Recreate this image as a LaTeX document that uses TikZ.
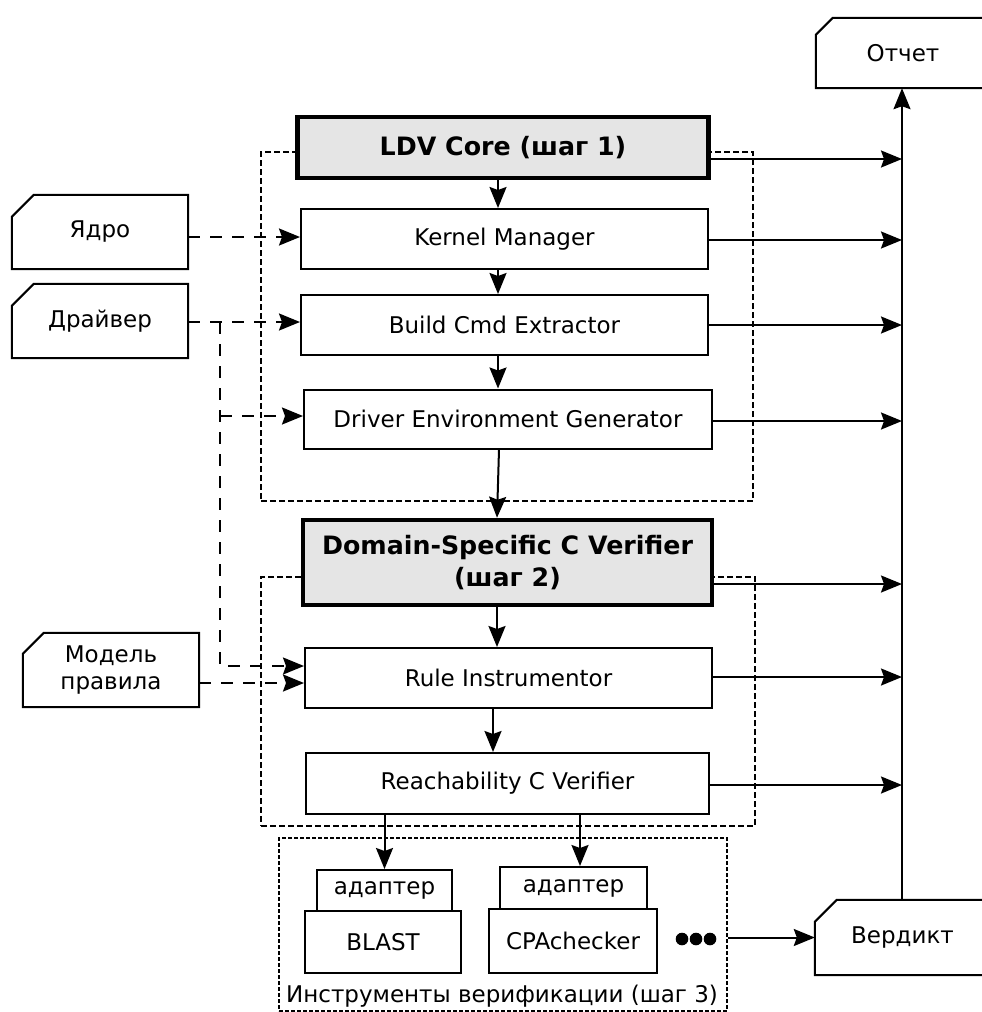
\documentclass[tikz,border=0pt]{standalone}
\usepackage{fontspec}
\setmainfont{DejaVu Sans}
\usetikzlibrary{arrows.meta,calc}
\begin{document}
\begin{tikzpicture}[x=1pt,y=-1pt,
  font=\fontsize{23}{27.5}\selectfont,
  box/.style={draw, line width=2pt, fill=white, inner sep=0pt},
  head/.style={box, line width=4.5pt, fill=gray!20, font=\fontsize{25.3}{31.5}\selectfont\bfseries, align=center},
  doc/.style={inner sep=0pt, align=center},
  docline/.style={line width=2pt},
  cont/.style={draw, line width=1.8pt, dash pattern=on 6pt off 3pt, inner sep=0pt},
  toolcont/.style={draw, line width=1.5pt, dash pattern=on 4pt off 2pt, inner sep=0pt},
  arr/.style={line width=2pt, -{Stealth[length=21pt 0, width=17pt 0, inset=3pt 0]}},
  darr/.style={arr, dash pattern=on 12pt off 10pt},
  dline/.style={line width=2pt, dash pattern=on 12pt off 10pt}]
\useasboundingbox (0,0) rectangle (982,1012);
\clip (0,0) rectangle (982,1012);

% containers
\node[cont, minimum width=492, minimum height=349] (c1) at (507,326.5) {};
\node[cont, minimum width=494, minimum height=249] (c2) at (508,701.5) {};
\node[toolcont, minimum width=448, minimum height=173] (tools) at (503,924.5) {};
\node (toolslabel) at (502,996) {Инструменты верификации (шаг 3)};

% main boxes
\node[head, minimum width=411, minimum height=61] (ldv) at (503,147.5) {LDV Core (шаг 1)};
\node[box, minimum width=407, minimum height=60] (km) at (504.5,239) {Kernel Manager};
\node[box, minimum width=407, minimum height=60] (bce) at (504.5,325) {Build Cmd Extractor};
\node[box, minimum width=408, minimum height=59] (deg) at (508,419) {Driver Environment Generator};
\node[head, minimum width=409, minimum height=85] (dscv) at (507.5,562.5) {Domain-Specific C Verifier\\(шаг 2)};
\node[box, minimum width=407, minimum height=60] (ri) at (508.5,678) {Rule Instrumentor};
\node[box, minimum width=403, minimum height=61] (rcv) at (507.5,783.5) {Reachability C Verifier};

% tools
\node[box, minimum width=135, minimum height=41] (ad1) at (384.5,890.5) {адаптер};
\node[box, minimum width=147, minimum height=42] (ad2) at (573.5,888) {адаптер};
\node[box, minimum width=156, minimum height=62] (blast) at (383,942) {BLAST};
\node[box, minimum width=168, minimum height=64] (cpa) at (573,941) {CPAchecker};
\foreach \x in {682,696,710} \fill (\x,939) circle (6.3);

% documents
\node[doc, minimum width=176, minimum height=74] (yadro) at (100,232) {Ядро};
\node[doc, minimum width=176, minimum height=74] (drv) at (100,321) {Драйвер};
\node[doc, minimum width=176, minimum height=74] (model) at (111,670) {Модель\\правила};
\node[doc, minimum width=174, minimum height=70] (otchet) at (903,53) {Отчет};
\node[doc, minimum width=175, minimum height=75] (verdict) at (902.5,937.5) {Вердикт};
\foreach \n/\c in {yadro/22, drv/22, model/21, otchet/17, verdict/22}
  \draw[docline] (\n.south west) -- ([yshift=-\c pt]\n.north west) -- ([xshift=\c pt]\n.north west) -- (\n.north east) -- (\n.south east) -- cycle;

% vertical flow
\coordinate (colx) at (498,0);
\draw[arr] (ldv.south -| colx) -- (km.north -| colx);
\draw[arr] (km.south -| colx) -- (bce.north -| colx);
\draw[arr] (bce.south -| colx) -- (deg.north -| colx);
\draw[arr] ([xshift=-9pt]deg.south) -- ([xshift=-10.5pt]dscv.north);
\draw[arr] ([xshift=-10.5pt]dscv.south) -- ([xshift=-11.5pt]ri.north);
\draw[arr] ([xshift=-15.5pt]ri.south) -- ([xshift=-14.5pt]rcv.north);
\draw[arr] (rcv.south -| ad1.north) -- (ad1.north);
\draw[arr] ([xshift=6.5pt]rcv.south -| ad2.north) -- ([xshift=6.5pt]ad2.north);

% inputs
\draw[darr] ([yshift=-5pt]yadro.east) coordinate (a1) -- (a1 -| km.west);
\draw[darr] ([yshift=-1pt]drv.east) coordinate (a2) -- (a2 -| bce.west);
\coordinate (sp) at (220,322);
\coordinate (dg) at ([yshift=3pt]deg.west);
\draw[darr] (sp |- dg) -- (dg);
\draw[darr] (sp) |- ([yshift=12pt]ri.west);
\draw[darr] ([yshift=-13pt]model.east) coordinate (a3) -- (a3 -| ri.west);

% outputs to bus
\coordinate (bus) at (902,0);
\draw[arr] ([yshift=-11.5pt]ldv.east) coordinate (b1) -- (b1 -| bus);
\draw[arr] ([yshift=-1pt]km.east) coordinate (b2) -- (b2 -| bus);
\draw[arr] ([yshift=0pt]bce.east) coordinate (b3) -- (b3 -| bus);
\draw[arr] ([yshift=-2pt]deg.east) coordinate (b4) -- (b4 -| bus);
\draw[arr] ([yshift=-21.5pt]dscv.east) coordinate (b5) -- (b5 -| bus);
\draw[arr] ([yshift=1pt]ri.east) coordinate (b6) -- (b6 -| bus);
\draw[arr] ([yshift=-1.5pt]rcv.east) coordinate (b7) -- (b7 -| bus);
\draw[arr] (verdict.north -| bus) -- (otchet.south -| bus);
\draw[arr] (tools.east |- verdict.west) -- (verdict.west);
\end{tikzpicture}
\end{document}
